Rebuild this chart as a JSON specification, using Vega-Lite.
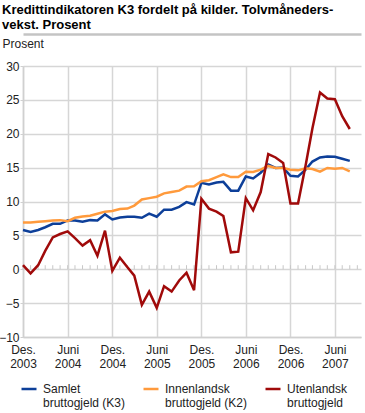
{
  "$schema": "https://vega.github.io/schema/vega-lite/v6.json",
  "width": 338,
  "height": 271,
  "autosize": "none",
  "padding": {"left": 23, "top": 66, "right": 4, "bottom": 76},
  "background": "white",
  "config": {
    "font": "Liberation Sans",
    "view": {"stroke": null}
  },
  "title": {
    "text": ["Kredittindikatoren K3 fordelt på kilder. Tolvmåneders-", "vekst. Prosent"],
    "anchor": "start",
    "frame": "group",
    "font": "Liberation Sans",
    "fontSize": 13,
    "fontWeight": "bold",
    "color": "#000000",
    "lineHeight": 15,
    "dx": -21,
    "offset": -6
  },
  "data": {
    "values": [
      {"date": "2003-12-01", "Samlet": 5.8, "Innenlandsk": 6.9, "Utenlandsk": 0.6},
      {"date": "2004-01-01", "Samlet": 5.5, "Innenlandsk": 6.9, "Utenlandsk": -0.6},
      {"date": "2004-02-01", "Samlet": 5.8, "Innenlandsk": 7.0, "Utenlandsk": 0.6},
      {"date": "2004-03-01", "Samlet": 6.2, "Innenlandsk": 7.1, "Utenlandsk": 2.7},
      {"date": "2004-04-01", "Samlet": 6.7, "Innenlandsk": 7.2, "Utenlandsk": 4.7},
      {"date": "2004-05-01", "Samlet": 6.7, "Innenlandsk": 7.25, "Utenlandsk": 5.2},
      {"date": "2004-06-01", "Samlet": 7.2, "Innenlandsk": 7.1, "Utenlandsk": 5.6},
      {"date": "2004-07-01", "Samlet": 7.2, "Innenlandsk": 7.6, "Utenlandsk": 4.6},
      {"date": "2004-08-01", "Samlet": 7.0, "Innenlandsk": 7.8, "Utenlandsk": 3.5},
      {"date": "2004-09-01", "Samlet": 7.25, "Innenlandsk": 7.9, "Utenlandsk": 4.3},
      {"date": "2004-10-01", "Samlet": 7.2, "Innenlandsk": 8.2, "Utenlandsk": 2.0},
      {"date": "2004-11-01", "Samlet": 8.1, "Innenlandsk": 8.5, "Utenlandsk": 5.7},
      {"date": "2004-12-01", "Samlet": 7.35, "Innenlandsk": 8.6, "Utenlandsk": -0.25},
      {"date": "2005-01-01", "Samlet": 7.65, "Innenlandsk": 8.9, "Utenlandsk": 1.7},
      {"date": "2005-02-01", "Samlet": 7.75, "Innenlandsk": 8.95, "Utenlandsk": 0.3},
      {"date": "2005-03-01", "Samlet": 7.75, "Innenlandsk": 9.4, "Utenlandsk": -0.95},
      {"date": "2005-04-01", "Samlet": 7.6, "Innenlandsk": 10.3, "Utenlandsk": -5.25},
      {"date": "2005-05-01", "Samlet": 8.2, "Innenlandsk": 10.5, "Utenlandsk": -3.3},
      {"date": "2005-06-01", "Samlet": 7.75, "Innenlandsk": 10.7, "Utenlandsk": -5.7},
      {"date": "2005-07-01", "Samlet": 8.8, "Innenlandsk": 11.2, "Utenlandsk": -2.5},
      {"date": "2005-08-01", "Samlet": 8.8, "Innenlandsk": 11.4, "Utenlandsk": -3.3},
      {"date": "2005-09-01", "Samlet": 9.2, "Innenlandsk": 11.6, "Utenlandsk": -1.65},
      {"date": "2005-10-01", "Samlet": 9.9, "Innenlandsk": 12.2, "Utenlandsk": -0.5},
      {"date": "2005-11-01", "Samlet": 9.55, "Innenlandsk": 12.25, "Utenlandsk": -3.1},
      {"date": "2005-12-01", "Samlet": 12.75, "Innenlandsk": 13.0, "Utenlandsk": 10.4},
      {"date": "2006-01-01", "Samlet": 12.5, "Innenlandsk": 13.15, "Utenlandsk": 8.95},
      {"date": "2006-02-01", "Samlet": 12.8, "Innenlandsk": 13.6, "Utenlandsk": 8.5},
      {"date": "2006-03-01", "Samlet": 12.9, "Innenlandsk": 14.0, "Utenlandsk": 7.85},
      {"date": "2006-04-01", "Samlet": 11.6, "Innenlandsk": 13.6, "Utenlandsk": 2.5},
      {"date": "2006-05-01", "Samlet": 11.6, "Innenlandsk": 13.6, "Utenlandsk": 2.6},
      {"date": "2006-06-01", "Samlet": 13.7, "Innenlandsk": 14.4, "Utenlandsk": 10.5},
      {"date": "2006-07-01", "Samlet": 13.4, "Innenlandsk": 14.35, "Utenlandsk": 8.7},
      {"date": "2006-08-01", "Samlet": 14.25, "Innenlandsk": 14.7, "Utenlandsk": 11.4},
      {"date": "2006-09-01", "Samlet": 15.45, "Innenlandsk": 15.25, "Utenlandsk": 17.0},
      {"date": "2006-10-01", "Samlet": 14.95, "Innenlandsk": 14.95, "Utenlandsk": 16.5},
      {"date": "2006-11-01", "Samlet": 15.0, "Innenlandsk": 14.95, "Utenlandsk": 15.7},
      {"date": "2006-12-01", "Samlet": 13.8, "Innenlandsk": 14.7, "Utenlandsk": 9.7},
      {"date": "2007-01-01", "Samlet": 13.7, "Innenlandsk": 14.6, "Utenlandsk": 9.7},
      {"date": "2007-02-01", "Samlet": 14.7, "Innenlandsk": 14.9, "Utenlandsk": 15.3},
      {"date": "2007-03-01", "Samlet": 15.9, "Innenlandsk": 14.8, "Utenlandsk": 20.8},
      {"date": "2007-04-01", "Samlet": 16.5, "Innenlandsk": 14.4, "Utenlandsk": 26.1},
      {"date": "2007-05-01", "Samlet": 16.65, "Innenlandsk": 14.95, "Utenlandsk": 25.2},
      {"date": "2007-06-01", "Samlet": 16.6, "Innenlandsk": 14.85, "Utenlandsk": 25.1},
      {"date": "2007-07-01", "Samlet": 16.3, "Innenlandsk": 14.95, "Utenlandsk": 22.6},
      {"date": "2007-08-01", "Samlet": 16.0, "Innenlandsk": 14.45, "Utenlandsk": 20.7},
      {"date": "2007-09-01", "Samlet": null, "Innenlandsk": null, "Utenlandsk": null}
    ]
  },
  "resolve": {"scale": {"x": "independent"}, "axis": {"x": "independent"}},
  "layer": [
    {
      "mark": {"type": "rule", "color": "#c8c8c8", "strokeWidth": 1},
      "encoding": {
        "x": {
          "field": "date",
          "type": "temporal",
          "scale": {"type": "utc", "domain": [{"year": 2003, "month": 12, "date": 1, "utc": true}, {"year": 2007, "month": 9, "date": 16, "utc": true}]},
          "axis": {"orient": "top", "offset": 32, "domain": true, "domainColor": "#c4c4c4", "domainWidth": 2.5, "labels": true, "labelExpr": "''", "labelFontSize": 1, "labelColor": "#ffffff", "ticks": true, "tickColor": "#ffffff", "grid": false, "title": null}
        },
        "y": {
          "datum": 0,
          "type": "quantitative",
          "scale": {"domain": [-10, 30], "nice": false},
          "axis": {
            "values": [-10, -5, 0, 5, 10, 15, 20, 25, 30],
            "title": "Prosent",
            "titleAngle": 0,
            "titleAlign": "left",
            "titleBaseline": "alphabetic",
            "titleX": -21,
            "titleY": -19,
            "titleFontWeight": "normal",
            "titleFontSize": 12,
            "titleColor": "#222222",
            "grid": true,
            "gridColor": "#d6d6d6",
            "gridWidth": 1.5,
            "domain": true,
            "domainColor": "#d0d0d0",
            "domainWidth": 1.5,
            "ticks": true,
            "tickColor": "#d0d0d0",
            "tickSize": 3,
            "labelPadding": 1,
            "labelFontSize": 12,
            "labelColor": "#222222"
          }
        },
        "y2": {"datum": 0.6}
      }
    },
    {
      "transform": [{"fold": ["Samlet", "Innenlandsk", "Utenlandsk"], "as": ["serie", "value"]}],
      "mark": {"type": "line", "strokeWidth": 2.5},
      "encoding": {
        "x": {
          "field": "date",
          "type": "temporal",
          "scale": {"type": "utc", "domain": [{"year": 2003, "month": 12, "date": 1, "utc": true}, {"year": 2007, "month": 9, "date": 16, "utc": true}]},
          "axis": {
            "orient": "bottom",
            "values": [
              {"year": 2003, "month": 12, "date": 1, "utc": true},
              {"year": 2004, "month": 6, "date": 1, "utc": true},
              {"year": 2004, "month": 12, "date": 1, "utc": true},
              {"year": 2005, "month": 6, "date": 1, "utc": true},
              {"year": 2005, "month": 12, "date": 1, "utc": true},
              {"year": 2006, "month": 6, "date": 1, "utc": true},
              {"year": 2006, "month": 12, "date": 1, "utc": true},
              {"year": 2007, "month": 6, "date": 1, "utc": true}
            ],
            "labelExpr": "[utcmonth(datum.value) == 11 ? 'Des.' : 'Juni', '' + utcyear(datum.value)]",
            "title": null,
            "grid": true,
            "gridColor": "#d6d6d6",
            "gridWidth": 1.5,
            "domain": true,
            "domainColor": "#d0d0d0",
            "domainWidth": 1.5,
            "ticks": false,
            "labelPadding": 7,
            "labelBaseline": "top",
            "labelFontSize": 12,
            "labelColor": "#222222",
            "labelLineHeight": 14,
            "labelOverlap": false,
            "labelFlush": false
          }
        },
        "y": {
          "field": "value",
          "type": "quantitative",
          "scale": {"domain": [-10, 30], "nice": false},
          "axis": {
            "values": [-10, -5, 0, 5, 10, 15, 20, 25, 30],
            "title": "Prosent",
            "titleAngle": 0,
            "titleAlign": "left",
            "titleBaseline": "alphabetic",
            "titleX": -21,
            "titleY": -19,
            "titleFontWeight": "normal",
            "titleFontSize": 12,
            "titleColor": "#222222",
            "grid": true,
            "gridColor": "#d6d6d6",
            "gridWidth": 1.5,
            "domain": true,
            "domainColor": "#d0d0d0",
            "domainWidth": 1.5,
            "ticks": true,
            "tickColor": "#d0d0d0",
            "tickSize": 3,
            "labelPadding": 1,
            "labelFontSize": 12,
            "labelColor": "#222222"
          }
        },
        "color": {
          "field": "serie",
          "type": "nominal",
          "scale": {"domain": ["Samlet", "Innenlandsk", "Utenlandsk"], "range": ["#0d3f99", "#ff9a3c", "#a00a0a"]},
          "legend": {
            "orient": "none",
            "legendX": -3,
            "legendY": 314,
            "direction": "horizontal",
            "columns": 3,
            "title": null,
            "padding": 0,
            "symbolType": "stroke",
            "symbolSize": 225,
            "symbolStrokeWidth": 2.5,
            "labelFontSize": 12,
            "labelColor": "#222222",
            "labelOffset": 5,
            "labelLimit": 200,
            "labelBaseline": "alphabetic",
            "columnPadding": 12,
            "labelExpr": "datum.label == 'Samlet' ? ['Samlet', 'bruttogjeld (K3)'] : datum.label == 'Innenlandsk' ? ['Innenlandsk', 'bruttogjeld (K2)'] : ['Utenlandsk', 'bruttogjeld']",
            "encode": {"labels": {"update": {"dy": {"value": 4}}}}
          }
        }
      }
    }
  ]
}
